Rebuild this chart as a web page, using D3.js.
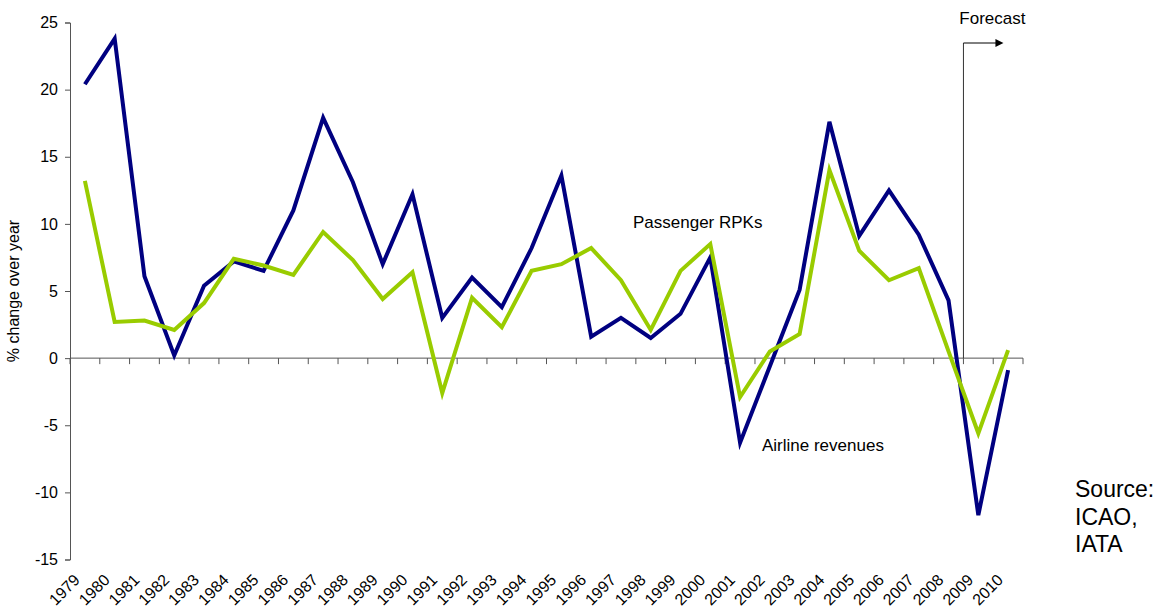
<!DOCTYPE html>
<html>
<head>
<meta charset="utf-8">
<script src="https://cdn.jsdelivr.net/npm/d3@7"></script>
<style>
  html, body { margin: 0; padding: 0; background: #fff; }
  text { font-family: "Liberation Sans", Arial, sans-serif; fill: #000; }
</style>
</head>
<body>
<svg id="chart" width="1159" height="613"></svg>
<script>
const years = [1979,1980,1981,1982,1983,1984,1985,1986,1987,1988,1989,1990,1991,1992,1993,1994,1995,1996,1997,1998,1999,2000,2001,2002,2003,2004,2005,2006,2007,2008,2009,2010];
const airlineRevenues = [20.4,23.8,6.1,0.2,5.4,7.2,6.5,11.0,17.9,13.1,7.0,12.2,3.0,6.0,3.8,8.2,13.6,1.6,3.0,1.5,3.3,7.5,-6.3,-0.6,5.1,17.6,9.1,12.5,9.2,4.3,-11.7,-0.9];
const passengerRPKs = [13.2,2.7,2.8,2.1,4.1,7.4,6.9,6.2,9.4,7.3,4.4,6.4,-2.6,4.5,2.3,6.5,7.0,8.2,5.8,2.1,6.5,8.5,-2.9,0.5,1.8,14.0,8.0,5.8,6.7,0.5,-5.6,0.6];
const yTicks = [-15,-10,-5,0,5,10,15,20,25];
const forecastStartYear = 2009;

const svg = d3.select("#chart");
const x = d3.scaleBand().domain(years).range([70, 1023]).paddingInner(0).paddingOuter(0);
const y = d3.scaleLinear().domain([-15, 25]).range([559.5, 22.5]);
const axisColor = "#555";

// Y axis
const yAxis = svg.append("g").attr("transform", "translate(70,0)")
  .call(d3.axisLeft(y).tickValues(yTicks).tickSize(5).tickPadding(7).tickFormat(d => String(d)));
yAxis.select(".domain").attr("stroke", axisColor);
yAxis.selectAll(".tick line").attr("stroke", axisColor);
yAxis.selectAll("text").style("font-size", "16px").attr("fill", "#000");

// X axis at zero with ticks between categories
const xAxisG = svg.append("g");
xAxisG.append("line").attr("x1", 70).attr("x2", 1023).attr("y1", y(0)).attr("y2", y(0)).attr("stroke", axisColor);
const boundaries = years.map(d => x(d)).concat([x(years[years.length-1]) + x.bandwidth()]);
xAxisG.selectAll("line.tk").data(boundaries).enter().append("line")
  .attr("class", "tk").attr("x1", d => d).attr("x2", d => d)
  .attr("y1", y(0)).attr("y2", y(0) + 6).attr("stroke", axisColor);

// X labels at the low end, rotated
svg.append("g").selectAll("text").data(years).enter().append("text")
  .attr("transform", d => `translate(${x(d) + x.bandwidth()/2 - 4},581) rotate(-45)`)
  .attr("text-anchor", "end")
  .style("font-size", "16px")
  .text(d => d);

// Y label
svg.append("text")
  .attr("transform", `translate(19,${(y(25)+y(-15))/2}) rotate(-90)`)
  .attr("text-anchor", "middle")
  .style("font-size", "16px")
  .text("% change over year");

// Forecast marker
const fx = x(forecastStartYear);
svg.append("line").attr("x1", fx).attr("x2", fx).attr("y1", y(0)).attr("y2", 43).attr("stroke", "#333").attr("stroke-width", 1);
svg.append("line").attr("x1", fx).attr("x2", fx + 33).attr("y1", 43).attr("y2", 43).attr("stroke", "#000").attr("stroke-width", 1);
svg.append("path").attr("d", `M${fx+32},39 L${fx+40},43 L${fx+32},47 Z`).attr("fill", "#000");
svg.append("text").attr("x", fx + 29).attr("y", 24).attr("text-anchor", "middle").style("font-size", "17px").text("Forecast");

// Lines
const line = vals => d3.line()
  .x((d, i) => x(years[i]) + x.bandwidth()/2)
  .y(d => y(d))(vals);

svg.append("path").attr("d", line(airlineRevenues)).attr("fill", "none")
  .attr("stroke", "#000080").attr("stroke-width", 4).attr("stroke-linejoin", "miter");
svg.append("path").attr("d", line(passengerRPKs)).attr("fill", "none")
  .attr("stroke", "#99CC00").attr("stroke-width", 4).attr("stroke-linejoin", "miter");

// Series labels
svg.append("text").attr("x", 633).attr("y", 228).style("font-size", "17px").text("Passenger RPKs");
svg.append("text").attr("x", 762).attr("y", 451).style("font-size", "17px").text("Airline revenues");

// Source
const src = svg.append("text").style("font-size", "23px");
["Source:", "ICAO,", "IATA"].forEach((t, i) => {
  src.append("tspan").attr("x", 1075).attr("y", 497 + i*27.5).text(t);
});
</script>
</body>
</html>
